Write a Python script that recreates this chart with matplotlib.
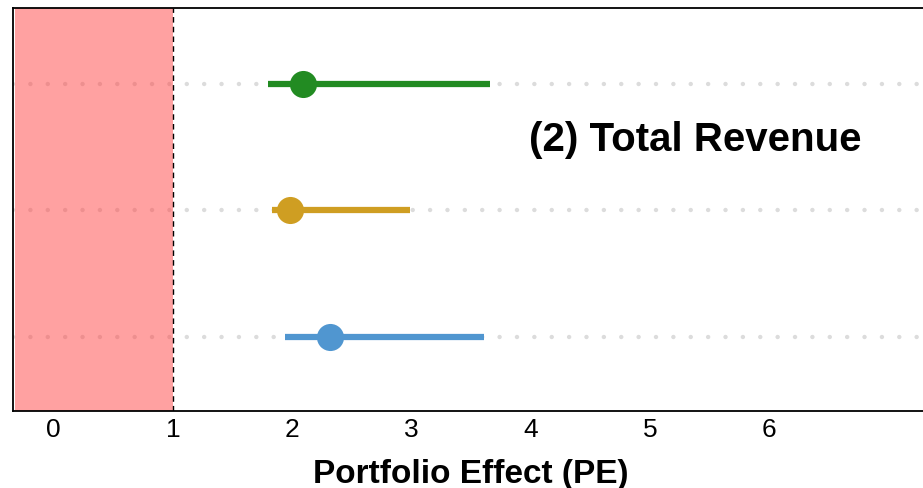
import matplotlib.pyplot as plt

# Rows from top to bottom
rows = [3, 2, 1]
pe_mid = [2.09, 1.98, 2.32]
pe_low = [1.80, 1.83, 1.94]
pe_high = [3.66, 2.99, 3.61]
colors = ['#228B22', '#CF9E22', '#5096D0']
xticks = [0, 1, 2, 3, 4, 5, 6]
panel_title = '(2) Total Revenue'


def main():
    plt.rcParams['font.family'] = ['Liberation Sans', 'DejaVu Sans']
    fig = plt.figure(figsize=(9.23, 4.88), dpi=100)
    ax = fig.add_axes([13 / 923, 1 - 411 / 488, 915 / 923, 403 / 488])

    ax.set_xlim(-0.34, 7.33)
    ax.set_ylim(0.413, 3.60)

    # Dotted guides
    for r in rows:
        ax.axhline(r, color='#DCDCDC', ls=(0, (0.01, 3.9)), lw=3.2,
                   dash_capstyle='round', zorder=0.5)

    # Shaded PE < 1 zone and reference line
    ax.axvspan(-0.32, 1, color='#FF4444', alpha=0.5, lw=0, zorder=0.7)
    ax.axvline(1, color='black', ls=(0, (4, 3)), lw=1, zorder=1)

    for r, m, lo, hi, c in zip(rows, pe_mid, pe_low, pe_high, colors):
        ax.plot([lo, hi], [r, r], color=c, lw=4.5, solid_capstyle='butt',
                zorder=2)
        ax.plot(m, r, 'o', color=c, ms=19.5, mew=0, zorder=3)

    ax.text(5.38, 2.56, panel_title, fontsize=29, fontweight='bold',
            ha='center', va='center')

    ax.set_xticks(xticks)
    ax.set_xticklabels([str(t) for t in xticks], fontsize=19)
    ax.tick_params(axis='x', length=0, pad=5)
    ax.set_yticks(rows)
    ax.set_yticklabels([])
    ax.tick_params(axis='y', length=5, color='white', direction='out')

    ax.set_xlabel('Portfolio Effect (PE)', fontsize=24, fontweight='bold',
                  labelpad=12)
    for s in ax.spines.values():
        s.set_linewidth(1.3)
    ax.spines['right'].set_visible(False)

    fig.savefig('out.png', dpi=100)


if __name__ == '__main__':
    main()
